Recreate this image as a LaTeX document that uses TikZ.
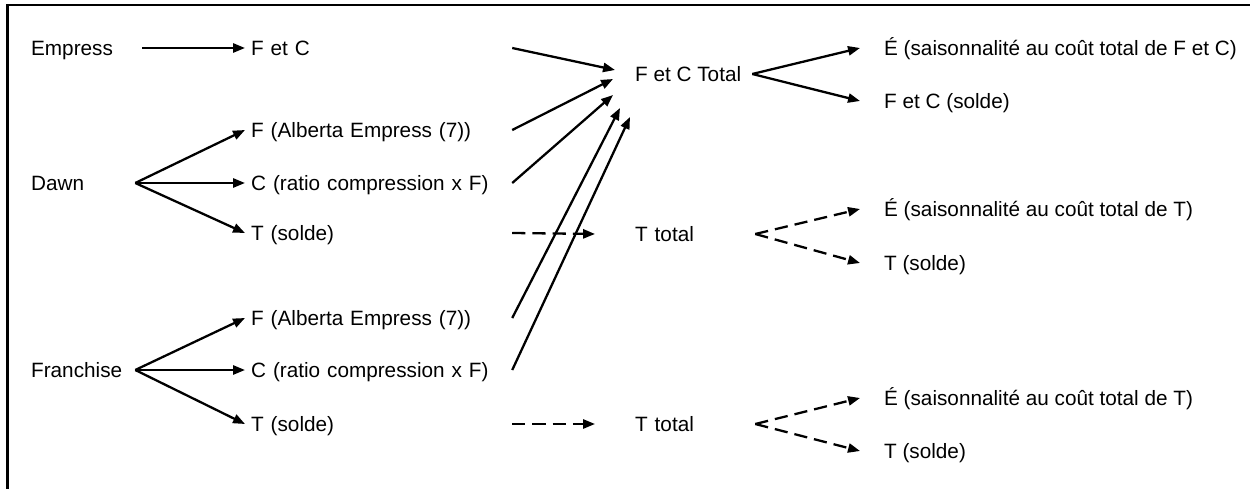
\documentclass[tikz,border=0pt]{standalone}
\usepackage{fontspec}
\setmainfont{Liberation Sans}
\usetikzlibrary{arrows.meta}
\usetikzlibrary{positioning}

\begin{document}
\begin{tikzpicture}[x=0.02cm,y=-0.02cm,>={Triangle[length=6.8pt,width=5.2pt]},line width=1.3pt,
    every node/.style={font=\fontsize{11.8}{14}\selectfont,text height=10.4pt,text depth=2pt},
    src/.style={anchor=west,inner xsep=0pt,text width=2.06cm,align=left},
    mid/.style={anchor=west,inner xsep=0.1cm,text width=5.1cm,align=left},
    total/.style={anchor=west,inner xsep=0.78cm,text width=1.6cm,align=left},
    res/.style={anchor=west,inner xsep=0.46cm},
    dashline/.style={dash pattern=on 7.5pt off 4pt}]
   \useasboundingbox (0,0) rectangle (1250,489);
   \draw[line width=1.5pt] (7.5,489) -- (7.5,5) -- (1250,5);
   \node[src] (empress)   at (30,48)  {Empress};
   \node[mid] (fc)        at (245,48) {F et C};
   \node[src] (dawn)      at (30,183) {Dawn};
   \node[mid] (d_f)       at (245,130) {F (Alberta Empress (7))};
   \node[mid] (d_c)       at (245,183) {C (ratio compression x F)};
   \node[mid] (d_t)       at (245,233) {T (solde)};
   \node[src] (franchise) at (30,370) {Franchise};
   \node[mid] (f_f)       at (245,318) {F (Alberta Empress (7))};
   \node[mid] (f_c)       at (245,370) {C (ratio compression x F)};
   \node[mid] (f_t)       at (245,424) {T (solde)};
   \node[anchor=west,inner xsep=0.2cm] (fc_tot) at (624,74) {F et C Total};
   \node[total] (t_tot1)  at (595,234) {T total};
   \node[total] (t_tot2)  at (595,424) {T total};
   \node[res] (fc_e)      at (860,48)  {É (saisonnalité au coût total de F et C)};
   \node[res] (fc_s)      at (860,101) {F et C (solde)};
   \node[res] (t_e1)      at (860,209) {É (saisonnalité au coût total de T)};
   \node[res] (t_s1)      at (860,263) {T (solde)};
   \node[res] (t_e2)      at (860,398) {É (saisonnalité au coût total de T)};
   \node[res] (t_s2)      at (860,451) {T (solde)};
   \coordinate (in_1) at ([shift={(-9,-4)}]fc_tot.west);
   \coordinate (in_2) at ([shift={(-11,5)}]fc_tot.west);
   \coordinate (in_3) at ([shift={(-11,21)}]fc_tot.west);
   \coordinate (in_4) at ([shift={(-4,34)}]fc_tot.west);
   \coordinate (in_5) at ([shift={(6,43)}]fc_tot.west);
    \path[->]
    (empress) edge[shorten <=0.14cm] (fc)
    (dawn.east) edge (d_f.west)
    (dawn.east) edge (d_c.west)
    (dawn.east) edge (d_t.west)
    (franchise.east) edge (f_f.west)
    (franchise.east) edge (f_c.west)
    (franchise.east) edge (f_t.west)
    (fc.east) edge (in_1)
    (d_f.east) edge (in_2)
    (d_c.east) edge (in_3)
    (f_f.east) edge (in_4)
    (f_c.east) edge (in_5)
    (fc_tot.east) edge (fc_e.west)
    (fc_tot.east) edge (fc_s.west)
    (d_t.east) edge[dashline] (t_tot1.west)
    (f_t.east) edge[dashline] (t_tot2.west)
    (t_tot1.east) edge[dashline] (t_e1.west)
    (t_tot1.east) edge[dashline] (t_s1.west)
    (t_tot2.east) edge[dashline] (t_e2.west)
    (t_tot2.east) edge[dashline] (t_s2.west);
\end{tikzpicture}
\end{document}
